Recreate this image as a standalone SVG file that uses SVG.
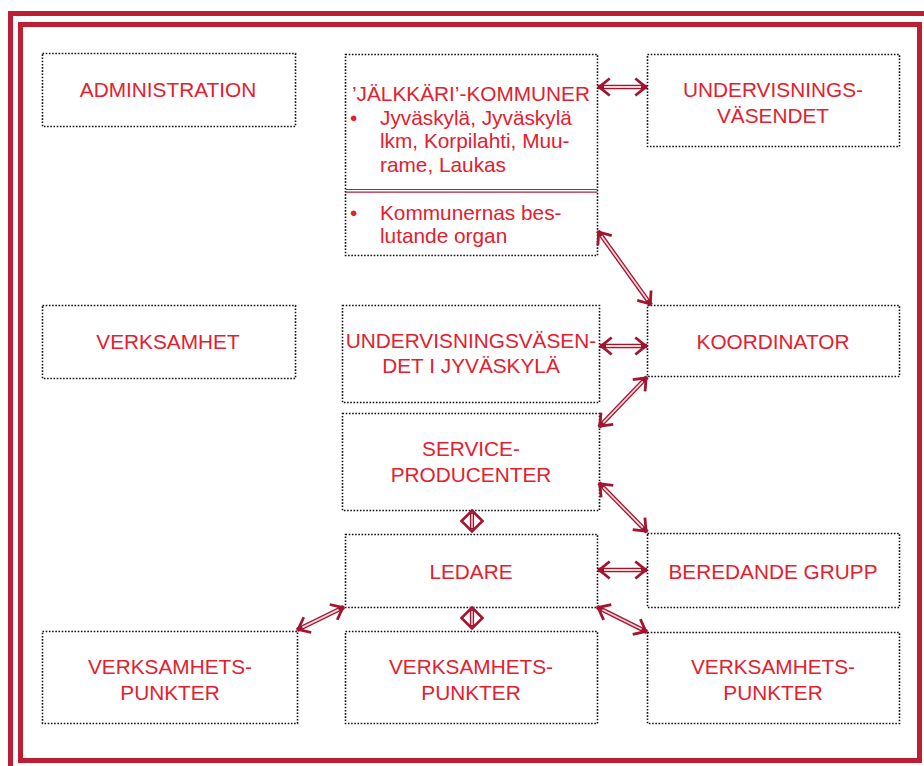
<svg xmlns="http://www.w3.org/2000/svg" width="924" height="766" viewBox="0 0 924 766">
<defs>
<style>
.frame{fill:none;stroke:#BE1E32;stroke-width:5}
.box{fill:none;stroke:#111;stroke-width:1.6;stroke-dasharray:1.6 1.6}
.t{font-family:"Liberation Sans",Arial,sans-serif;font-size:20.8px;fill:#E3202F}
.m{text-anchor:middle}
.sh{stroke:#A3142E;stroke-width:4.4;fill:none;marker-start:url(#ah);marker-end:url(#ah)}
.shi{stroke:#F6D3D9;stroke-width:1.8;fill:none}
.dia{fill:#fff;stroke:#A3142E;stroke-width:2.6;stroke-linejoin:miter}
.dl{stroke:#A3142E;stroke-width:4.2}
.dli{stroke:#F0B8C2;stroke-width:1.8}
.sep{stroke:#B0203A;stroke-width:1.2}
</style>
<marker id="ah" viewBox="-12 -10 15 20" refX="1.2" refY="0" markerWidth="15" markerHeight="20" markerUnits="userSpaceOnUse" orient="auto-start-reverse">
<path d="M-10.5,-8.5 L0,0 L-10.5,8.5" fill="none" stroke="#A3142E" stroke-width="2.8"/>
</marker>
</defs>
<rect width="924" height="766" fill="#fff"/>
<rect class="frame" x="10.5" y="13.5" width="930" height="770"/>
<rect class="frame" x="20.5" y="24.5" width="899" height="736"/>

<g id="administration">
<rect class="box" x="42.5" y="53.5" width="253" height="73"/>
<text class="t m" x="168" y="97">ADMINISTRATION</text>
</g>
<g id="jalkkari">
<rect class="box" x="345.5" y="54.5" width="252" height="201"/>
<line class="sep" x1="345.5" y1="189.5" x2="597.5" y2="189.5"/>
<line class="sep" x1="345.5" y1="192.2" x2="597.5" y2="192.2"/>
<text class="t m" x="471" y="101">’JÄLKKÄRI’-KOMMUNER</text>
<text class="t" x="350" y="124.5">•</text>
<text class="t" x="380" y="124.5">Jyväskylä, Jyväskylä</text>
<text class="t" x="380" y="148">lkm, Korpilahti, Muu-</text>
<text class="t" x="380" y="171.5">rame, Laukas</text>
<text class="t" x="350" y="219.5">•</text>
<text class="t" x="380" y="219.5">Kommunernas bes-</text>
<text class="t" x="380" y="243">lutande organ</text>
</g>
<g id="undervisningsvasendet">
<rect class="box" x="647.5" y="54.5" width="252" height="92"/>
<text class="t m" x="773" y="97">UNDERVISNINGS-</text>
<text class="t m" x="773" y="123">VÄSENDET</text>
</g>
<g id="verksamhet">
<rect class="box" x="42.5" y="305.5" width="253" height="73"/>
<text class="t m" x="168" y="349">VERKSAMHET</text>
</g>
<g id="undervisning-jyvaskyla">
<rect class="box" x="342.5" y="305.5" width="257" height="97"/>
<text class="t m" x="471" y="348">UNDERVISNINGSVÄSEN-</text>
<text class="t m" x="471" y="373">DET I JYVÄSKYLÄ</text>
</g>
<g id="koordinator">
<rect class="box" x="647.5" y="305.5" width="252" height="71"/>
<text class="t m" x="773" y="349">KOORDINATOR</text>
</g>
<g id="serviceproducenter">
<rect class="box" x="342.5" y="413.5" width="257" height="97"/>
<text class="t m" x="471" y="456">SERVICE-</text>
<text class="t m" x="471" y="482">PRODUCENTER</text>
</g>
<g id="ledare">
<rect class="box" x="345.5" y="534.5" width="252" height="73"/>
<text class="t m" x="471" y="579">LEDARE</text>
</g>
<g id="beredande-grupp">
<rect class="box" x="647.5" y="533.5" width="252" height="74"/>
<text class="t m" x="773" y="579">BEREDANDE GRUPP</text>
</g>
<g id="verksamhetspunkter-1">
<rect class="box" x="42.5" y="631.5" width="255" height="92"/>
<text class="t m" x="170" y="674">VERKSAMHETS-</text>
<text class="t m" x="170" y="700">PUNKTER</text>
</g>
<g id="verksamhetspunkter-2">
<rect class="box" x="345.5" y="631.5" width="252" height="92"/>
<text class="t m" x="471" y="674">VERKSAMHETS-</text>
<text class="t m" x="471" y="700">PUNKTER</text>
</g>
<g id="verksamhetspunkter-3">
<rect class="box" x="647.5" y="632.5" width="252" height="91"/>
<text class="t m" x="773" y="674">VERKSAMHETS-</text>
<text class="t m" x="773" y="700">PUNKTER</text>
</g>

<g id="connectors">
<line class="sh" x1="598" y1="87" x2="647" y2="87"/>
<line class="shi" x1="604" y1="87" x2="641" y2="87"/>
<line class="sh" x1="598" y1="231" x2="651" y2="305"/>
<line class="shi" x1="601.5" y1="235.9" x2="647.5" y2="300.1"/>
<line class="sh" x1="600" y1="346" x2="647" y2="346"/>
<line class="shi" x1="606" y1="346" x2="641" y2="346"/>
<line class="sh" x1="647" y1="377" x2="599" y2="427"/>
<line class="shi" x1="642.8" y1="381.3" x2="603.2" y2="422.7"/>
<line class="sh" x1="599" y1="483" x2="647" y2="532"/>
<line class="shi" x1="603.2" y1="487.3" x2="642.8" y2="527.7"/>
<line class="sh" x1="598" y1="570" x2="647" y2="570"/>
<line class="shi" x1="604" y1="570" x2="641" y2="570"/>
<line class="sh" x1="344" y1="607" x2="297" y2="630"/>
<line class="shi" x1="338.6" y1="609.6" x2="302.4" y2="627.4"/>
<line class="sh" x1="597" y1="607" x2="647" y2="632"/>
<line class="shi" x1="602.4" y1="609.7" x2="641.6" y2="629.3"/>
<polygon class="dia" points="472,510.5 482.5,521 472,531.5 461.5,521"/>
<line class="dl" x1="472" y1="513" x2="472" y2="529"/>
<line class="dli" x1="472" y1="514" x2="472" y2="528"/>
<polygon class="dia" points="472,607.5 482.5,618 472,628.5 461.5,618"/>
<line class="dl" x1="472" y1="610" x2="472" y2="626"/>
<line class="dli" x1="472" y1="611" x2="472" y2="625"/>
</g>
</svg>
